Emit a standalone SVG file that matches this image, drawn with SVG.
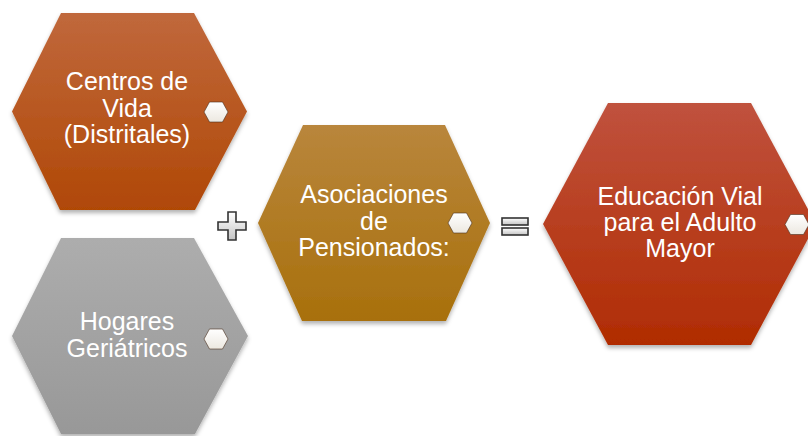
<svg xmlns="http://www.w3.org/2000/svg" width="808" height="436" viewBox="0 0 808 436">
<style>
.lbl{font-family:"Liberation Sans",Arial,sans-serif;font-size:25px;fill:#ffffff;text-anchor:middle}
.hx{filter:url(#sh)}
.mini{fill:url(#gMini);stroke:#4a3020;stroke-width:1;stroke-opacity:0.6}
.op{fill:url(#gOp);stroke:#333333;stroke-width:1.6}
</style>
<defs>
<filter id="sh" x="-10%" y="-10%" width="120%" height="125%">
<feDropShadow dx="0" dy="3" stdDeviation="2" flood-color="#000" flood-opacity="0.3"/>
</filter>
<linearGradient id="g1" x1="0" y1="0" x2="0" y2="1"><stop offset="0" stop-color="#c0683c"/><stop offset="1" stop-color="#b04806"/></linearGradient>
<linearGradient id="g2" x1="0" y1="0" x2="0" y2="1"><stop offset="0" stop-color="#adadad"/><stop offset="1" stop-color="#989898"/></linearGradient>
<linearGradient id="g3" x1="0" y1="0" x2="0" y2="1"><stop offset="0" stop-color="#b9863c"/><stop offset="1" stop-color="#a8700c"/></linearGradient>
<linearGradient id="g4" x1="0" y1="0" x2="0" y2="1"><stop offset="0" stop-color="#c0523e"/><stop offset="1" stop-color="#b02c02"/></linearGradient>
<linearGradient id="gMini" x1="0" y1="0" x2="0" y2="1"><stop offset="0" stop-color="#ffffff"/><stop offset="1" stop-color="#ece8e0"/></linearGradient>
<linearGradient id="gOp" x1="0" y1="0" x2="0" y2="1"><stop offset="0" stop-color="#ffffff"/><stop offset="1" stop-color="#c4c4c4"/></linearGradient>
</defs>

<g id="node-centros">
<polygon class="hx" points="12,111.5 61,13 194,13 247,111.5 195,210 60,210" fill="url(#g1)"/>
<polygon class="mini" points="204,112 209.5,102 222.5,102 228,112 222.5,122 209.5,122"/>
<text class="lbl" x="127" y="90">Centros de</text>
<text class="lbl" x="127" y="117">Vida</text>
<text class="lbl" x="127" y="143">(Distritales)</text>
</g>

<g id="node-hogares">
<polygon class="hx" points="12,336 61,238 194,238 248,336 195,434 61,434" fill="url(#g2)"/>
<polygon class="mini" points="204,339 209.5,329 222.5,329 228,339 222.5,349 209.5,349"/>
<text class="lbl" x="127" y="330">Hogares</text>
<text class="lbl" x="127" y="357">Geriátricos</text>
</g>

<g id="node-asociaciones">
<polygon class="hx" points="258,223 303,125 445,125 490,223 446,321 302,321" fill="url(#g3)"/>
<polygon class="mini" points="448,223 453.5,213 466.5,213 472,223 466.5,233 453.5,233"/>
<text class="lbl" x="374" y="203">Asociaciones</text>
<text class="lbl" x="374" y="229.5">de</text>
<text class="lbl" x="374" y="256">Pensionados:</text>
</g>

<g id="node-educacion">
<polygon class="hx" points="543,224 608,103 751,103 816,224 751,345 608,345" fill="url(#g4)"/>
<polygon class="mini" points="785,224.5 790.5,214.5 803.5,214.5 809,224.5 803.5,234.5 790.5,234.5"/>
<text class="lbl" x="680" y="205">Educación Vial</text>
<text class="lbl" x="680" y="231">para el Adulto</text>
<text class="lbl" x="680" y="257">Mayor</text>
</g>

<g id="connectors">
<path class="op" d="M228,212 H236 V222 H246 V230 H236 V240 H228 V230 H218 V222 H228 Z"/>
<rect class="op" x="502" y="218" width="26" height="7"/>
<rect class="op" x="502" y="228" width="26" height="7"/>
</g>
</svg>
